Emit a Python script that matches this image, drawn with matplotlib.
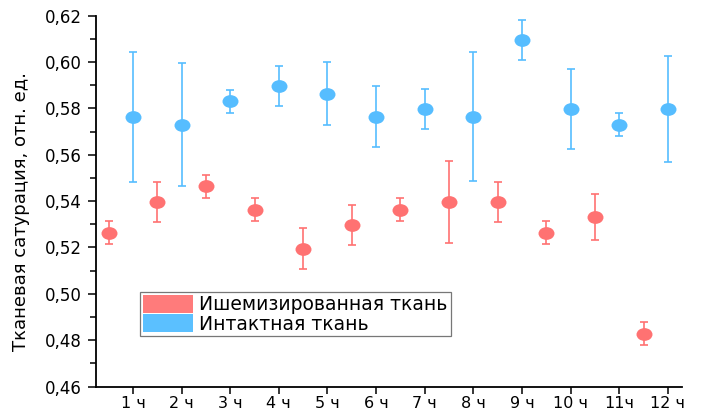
import matplotlib
matplotlib.use("Agg")
import matplotlib.pyplot as plt
from matplotlib.path import Path
from matplotlib.patches import Patch
import matplotlib.transforms as mtransforms
import numpy as np

plt.rcParams['font.family'] = ['DejaVu Sans']

hours = ["1 ч", "2 ч", "3 ч", "4 ч", "5 ч", "6 ч", "7 ч", "8 ч", "9 ч", "10 ч", "11ч", "12 ч"]

ischemic_mean = [0.5263, 0.5396, 0.5463, 0.5363, 0.5194, 0.5296,
                 0.5363, 0.5396, 0.5396, 0.5263, 0.5331, 0.4828]
ischemic_err = [0.005, 0.0087, 0.005, 0.005, 0.0088, 0.0086,
                0.005, 0.0175, 0.0088, 0.005, 0.010, 0.005]

intact_mean = [0.5762, 0.5730, 0.5831, 0.5897, 0.5864, 0.5765,
               0.5798, 0.5765, 0.6096, 0.5798, 0.5730, 0.5798]
intact_err = [0.028, 0.0265, 0.005, 0.0087, 0.0134, 0.0132,
              0.0087, 0.028, 0.0087, 0.0173, 0.005, 0.023]

y_ticks = [0.46, 0.48, 0.50, 0.52, 0.54, 0.56, 0.58, 0.60, 0.62]

red = "#FF7272"
blue = "#56BDFF"
red_leg = "#FF7B7B"
blue_leg = "#5BC0FF"

# slightly flattened ellipse marker
ellipse = Path.unit_circle().transformed(mtransforms.Affine2D().scale(1.0, 0.8))

fig = plt.figure(figsize=(7.02, 4.16), dpi=100)
ax = fig.add_axes([0.1368, 0.0709, 0.8347, 0.8914])

pos = np.arange(1, len(hours) + 1)

ax.errorbar(pos - 0.5, ischemic_mean, yerr=ischemic_err, fmt='none',
            ecolor=red, elinewidth=1.2, capsize=2.6, capthick=1.2, zorder=2)
ax.plot(pos - 0.5, ischemic_mean, linestyle='none', marker=ellipse,
        markersize=11.5, color=red, markeredgewidth=0, zorder=3)

ax.errorbar(pos, intact_mean, yerr=intact_err, fmt='none',
            ecolor=blue, elinewidth=1.2, capsize=2.6, capthick=1.2, zorder=2)
ax.plot(pos, intact_mean, linestyle='none', marker=ellipse,
        markersize=11.5, color=blue, markeredgewidth=0, zorder=3)

ax.set_xlim(0.24, 12.29)
ax.set_ylim(0.46, 0.62)
ax.set_xticks(pos)
ax.set_xticklabels(hours, fontsize=11.5)
ax.set_yticks(y_ticks)
ax.set_yticklabels([f"{v:.2f}".replace('.', ',') for v in y_ticks], fontsize=12)
ax.set_yticks(np.arange(0.47, 0.62, 0.02), minor=True)

for s in ['top', 'right']:
    ax.spines[s].set_visible(False)
for s in ['left', 'bottom']:
    ax.spines[s].set_linewidth(1.3)

ax.tick_params(axis='y', which='major', direction='out', length=6, width=1.1, pad=4)
ax.tick_params(axis='y', which='minor', direction='out', length=4, width=1.1)
ax.tick_params(axis='x', which='major', direction='out', length=5, width=1.1, pad=2)

ax.set_ylabel("Тканевая сатурация, отн. ед.", fontsize=13)
ax.yaxis.set_label_coords(-0.113, 0.473)

handles = [Patch(facecolor=red_leg, edgecolor='none'),
           Patch(facecolor=blue_leg, edgecolor='none')]
leg = ax.legend(handles, ["Ишемизированная ткань", "Интактная ткань"],
                loc='upper left', bbox_to_anchor=(0.075, 0.255), fontsize=13.5,
                handlelength=2.67, handleheight=1.1, labelspacing=0.0,
                handletextpad=0.35, borderpad=0.15, borderaxespad=0,
                fancybox=False, frameon=True)
leg.get_frame().set_edgecolor('#555555')
leg.get_frame().set_linewidth(0.9)

fig.savefig("out.png", dpi=100)
